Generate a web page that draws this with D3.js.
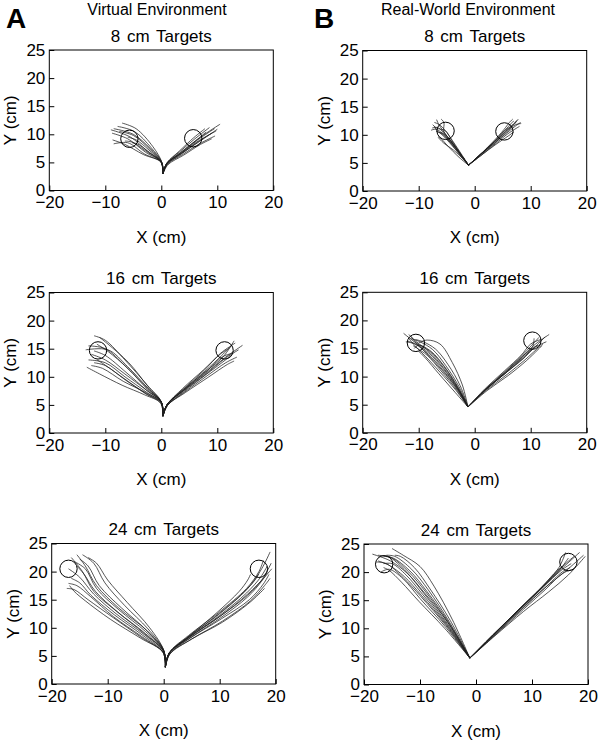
<!DOCTYPE html>
<html>
<head>
<meta charset="utf-8">
<script src="https://cdn.jsdelivr.net/npm/d3@7"></script>
<style>
  body { margin: 0; background: #fff; }
  svg text { font-family: "Liberation Sans", Arial, sans-serif; fill: #000; }
</style>
</head>
<body>
<script>
// axis ticks
var xTicks = [-20, -10, 0, 10, 20];
var yTicks = [0, 5, 10, 15, 20, 25];
var columnLabels = ["A", "B"];
var environments = ["Virtual Environment", "Real-World Environment"];
var rowTitles = ["8 cm Targets", "16 cm Targets", "24 cm Targets"];

// target circles [x, y] in cm, per panel (left target, right target)
var targetsVE8 = [[-5.7, 9.2], [5.7, 9.3]];
var targetsVE16 = [[-11.3, 14.7], [11.3, 14.7]];
var targetsVE24 = [[-17, 20.5], [17, 20.5]];
var targetsRW8 = [[-5.2, 10.7], [5.3, 10.6]];
var targetsRW16 = [[-10.5, 16], [10.3, 16.4]];
var targetsRW24 = [[-16.4, 21.4], [16.5, 21.8]];
var targetRadius = 1.55;

// hand trajectories (cm)
var ve8 = [
  [[0.3,3],[0.1,5],[-1.5,7.8],[-4.5,11],[-7,12]],
  [[0.3,3],[0.1,5],[-2,7.5],[-5,10],[-8.5,11]],
  [[0.3,3],[0,5],[-2.5,7],[-5.5,9.5],[-9,10.8]],
  [[0.3,3],[0,5],[-2.8,6.8],[-6,9.2],[-8.8,10.2]],
  [[0.3,3],[0,5],[-3,6.5],[-6,8.5],[-8.5,8.3]],
  [[0.3,3],[0,5],[-2.2,7.2],[-4.5,9],[-6,9.5]],
  [[0.3,3],[0,5],[-2,7.3],[-5,9.8],[-7.5,10.5]],
  [[0.3,3],[0.1,5],[-1.8,7.6],[-4.8,10.5],[-7.8,11.4]],
  [[0.3,3],[0,5],[-2.6,6.9],[-5.2,8.6],[-6.5,8.8]],
  [[0.3,3],[0,5],[-3.2,6.4],[-6.5,8.2],[-8.7,9]],
  [[0.3,3],[0,5],[-2.4,7],[-4.3,8.3],[-5.2,8.5]],
  [[0.3,3],[1,4.8],[3.5,6.8],[7,9.5],[10.5,11.8]],
  [[0.3,3],[1,4.8],[3.5,6.6],[6.5,9],[9.5,11]],
  [[0.3,3],[1.1,4.7],[3.6,6.5],[6.5,8.6],[9,10.2]],
  [[0.3,3],[1,4.9],[3.3,6.9],[6,9.2],[8.6,11.2]],
  [[0.3,3],[1.1,4.7],[3.8,6.4],[6.8,8.3],[9.6,9.7]],
  [[0.3,3],[1,4.8],[3.4,6.7],[6.2,8.9],[8,10.4]],
  [[0.3,3],[1,4.8],[3.5,6.6],[6.6,8.8],[9.8,10.6]],
  [[0.3,3],[1.2,4.6],[4,6.3],[7,8.2],[9,9.2]],
  [[0.3,3],[1,4.9],[3.2,7],[5.8,9.4],[7.8,11]],
  [[0.3,3],[1,4.8],[3.6,6.6],[6.8,8.7],[10,10.9]]
];

var ve16 = [
  [[0.3,3],[0,5.5],[-2.5,8.5],[-6.5,13],[-10,16.5],[-12,17.3]],
  [[0.3,3],[0,5.5],[-2.5,8],[-6.5,12],[-10,15],[-13,15.5]],
  [[0.3,3],[0,5.5],[-2.5,7.5],[-6.5,10.5],[-10,13],[-12.5,14]],
  [[0.3,3],[-0.1,5.3],[-2.8,7],[-6.5,9.5],[-10,12],[-12,12.5]],
  [[0.3,3],[-0.1,5.3],[-3,6.8],[-7,8.5],[-11,10.5],[-13.3,11.7]],
  [[0.3,3],[0,5.4],[-2.7,7.3],[-6.5,10],[-10,12.5],[-13,13]],
  [[0.3,3],[0,5.5],[-2.5,7.8],[-6,11.5],[-9.5,14.5],[-11.5,15.8]],
  [[0.3,3],[0,5.6],[-2.3,8.2],[-5.8,12.5],[-9.5,15.8],[-11,17]],
  [[0.3,3],[0,5.4],[-2.8,7.2],[-6.8,9.2],[-10.5,11.5],[-12.5,12]],
  [[0.3,3],[0,5.5],[-2.6,7.6],[-6.3,10.8],[-10,13.8],[-12,14.6]],
  [[0.3,3],[0,5.5],[-2.4,8],[-6,11.8],[-9.5,14.8],[-13.5,14.8]],
  [[0.3,3],[0,5.4],[-2.9,7.1],[-6.8,9.8],[-10.8,12.6],[-11.5,13]],
  [[0.3,3],[1,5],[4,7.8],[8,11],[11,13.5],[13,16.4]],
  [[0.3,3],[1,5],[4,7.6],[8,10.7],[11.5,13.5],[14.5,15.6]],
  [[0.3,3],[1.1,4.9],[4.2,7.3],[8.2,10.2],[11.5,12.5],[13.5,13.5]],
  [[0.3,3],[1,5],[4,7.7],[7.8,11],[10.8,13.8],[12.5,15.5]],
  [[0.3,3],[1.1,4.9],[4.3,7.2],[8.5,10],[11.8,12.2],[13,12.8]],
  [[0.3,3],[1,5],[3.8,7.9],[7.5,11.2],[10.5,14],[12,15]],
  [[0.3,3],[1,5],[4,7.5],[8,10.5],[11.3,13.2],[13.8,14.8]],
  [[0.3,3],[1,5],[3.9,7.8],[7.6,11.1],[10.6,14.2],[13.2,16]],
  [[0.3,3],[1.1,4.9],[4.1,7.4],[8,10.4],[11.2,12.8],[12.5,13.8]],
  [[0.3,3],[1,5],[4,7.6],[7.9,10.8],[11,13.6],[12.8,14.2]]
];

var ve24 = [
  [[0.3,3],[0,6],[-3,9.5],[-8,13.5],[-12,17.5],[-14,21],[-15.5,23]],
  [[0.3,3],[0,5.8],[-3.5,9],[-8.5,13],[-12.5,16.5],[-14.5,20],[-16.5,22.5]],
  [[0.3,3],[-0.1,5.6],[-4,8.5],[-9,12],[-13,15.5],[-15.5,17.5],[-17,17.9]],
  [[0.3,3],[-0.1,5.6],[-4,8.3],[-9,11.8],[-13.5,15],[-16,16.8],[-17.3,17]],
  [[0.3,3],[0,5.8],[-3.5,8.8],[-8.5,12.5],[-12.5,16],[-15,19],[-17,20.5]],
  [[0.3,3],[0,6],[-2.8,9.8],[-7,14],[-10.5,18],[-12.5,21.5],[-14.5,23]],
  [[0.3,3],[0,5.9],[-3.2,9.3],[-8,13.2],[-12,17],[-14,20.5],[-16,21.8]],
  [[0.3,3],[-0.1,5.7],[-3.8,8.7],[-8.8,12.3],[-13,15.8],[-15,18],[-16.5,18.8]],
  [[0.3,3],[0,5.8],[-3.3,9],[-8.2,12.8],[-12.2,16.5],[-14.2,19.5],[-15.5,21]],
  [[0.3,3],[0,6],[-2.5,10],[-6.5,14.5],[-10,18.5],[-12,21.5],[-13.5,22.5]],
  [[0.3,3],[-0.1,5.6],[-4.2,8.2],[-9.5,11.5],[-14,14.8],[-16,16.5],[-16.8,17.5]],
  [[0.3,3],[0,5.9],[-3,9.5],[-7.5,13.5],[-11.5,17.5],[-13.5,21],[-15,22.2]],
  [[0.3,3],[1,5.5],[4.5,8.5],[10,12.5],[15,17],[17.5,20.5],[19,23.5]],
  [[0.3,3],[1,5.5],[4.5,8.3],[10,12],[15,16],[18,19],[19.3,20.5]],
  [[0.3,3],[1.1,5.3],[5,8],[10.5,11.2],[15.5,14.8],[18,17.5],[19,18.8]],
  [[0.3,3],[1,5.5],[4.5,8.5],[9.5,12.7],[13.5,16.5],[15,18.5],[15.5,19.5]],
  [[0.3,3],[1,5.5],[4.7,8.2],[10.2,11.8],[15,15.5],[17.5,18.3],[18.5,19.8]],
  [[0.3,3],[1.1,5.4],[5,8],[10.5,11],[15,14.2],[17,16],[18,17]],
  [[0.3,3],[1,5.6],[4.4,8.6],[9.8,12.7],[14.8,17],[17,20],[17.8,22]],
  [[0.3,3],[1,5.5],[4.6,8.4],[10,12.2],[14.8,16.2],[17.3,19],[18.5,21]],
  [[0.3,3],[1,5.5],[4.5,8.4],[9.7,12.4],[14.3,16.3],[16.3,18.5],[17,19.6]],
  [[0.3,3],[1.1,5.4],[4.8,8.2],[10.3,11.6],[15.3,15],[17.8,17.8],[18.8,19.5]],
  [[0.3,3],[1,5.5],[4.6,8.3],[10,12],[15,15.8],[17.5,18.5],[19.2,21.5]]
];

var rw8 = [
  [[-1.1,4.6],[-2.5,6.5],[-4.2,8.8],[-5.5,10.5],[-6.5,12],[-6.8,12.7]],
  [[-1.1,4.6],[-2.5,6.5],[-4.3,8.8],[-5.8,10.3],[-7,11],[-7.8,10.8]],
  [[-1.1,4.6],[-2.6,6.4],[-4.5,8.6],[-5.8,10],[-6.8,10.8],[-7.2,11.5]],
  [[-1.1,4.6],[-2.4,6.6],[-4,9],[-5.3,10.8],[-6.3,11.8],[-7.2,12.2]],
  [[-1.1,4.6],[-2.8,6],[-4.8,8],[-6,9.3],[-6.5,9.6]],
  [[-1.1,4.6],[-2.5,6.5],[-4.4,8.7],[-5.9,10.2],[-6.9,10.6]],
  [[-1.1,4.6],[-2.2,5.8],[-3.8,7.3],[-5.5,8.5],[-6.5,9.5]],
  [[-1.1,4.6],[-2.5,6.5],[-4.2,8.9],[-5.5,10.6],[-5.5,12.2],[-6,12.8]],
  [[-1.1,4.6],[-2.6,6.4],[-4.4,8.7],[-5.6,10.2],[-6.3,10.4]],
  [[-1.1,4.6],[-2.5,6.6],[-4.1,9],[-5.2,10.7],[-6.8,11.2],[-7.5,11.8]],
  [[-1.1,4.6],[-2.5,6.5],[-4.3,8.9],[-5.6,10.4],[-6.6,11.3],[-7.6,11.2]],
  [[-1.1,4.6],[1,6.5],[3.5,8.7],[5.5,10.5],[7,12],[7.8,12.8]],
  [[-1.1,4.6],[1,6.4],[3.6,8.6],[5.7,10.3],[7.2,11.5],[8.2,12.2]],
  [[-1.1,4.6],[1,6.5],[3.5,8.8],[5.4,10.8],[6.5,12],[7,12.5]],
  [[-1.1,4.6],[1.1,6.3],[3.7,8.4],[5.8,10.1],[7.5,11.2],[8,11.5]],
  [[-1.1,4.6],[1,6.5],[3.4,8.9],[5.2,10.9],[6.2,12.2],[6.8,12.8]],
  [[-1.1,4.6],[1,6.4],[3.6,8.5],[5.6,10.4],[7.3,11.8],[8.3,12]],
  [[-1.1,4.6],[1,6.5],[3.5,8.7],[5.5,10.6],[7,11.8],[7.6,12.6]],
  [[-1.1,4.6],[1.1,6.3],[3.8,8.3],[6,9.8],[7,10.5]],
  [[-1.1,4.6],[1,6.5],[3.5,8.8],[5.3,10.7],[6.6,11.6],[7.4,12.3]]
];

var rw16 = [
  [[-1.2,4.6],[-3,8],[-5.5,11.8],[-8,14.5],[-10.5,16],[-12.7,17.7]],
  [[-1.2,4.6],[-3,7.8],[-5.7,11.5],[-8.2,14.2],[-10.5,15.8],[-12,16.3]],
  [[-1.2,4.6],[-3.2,7.6],[-6,11],[-8.5,13.8],[-10.2,15],[-11,15.5]],
  [[-1.2,4.6],[-2.8,8.2],[-5.2,12],[-7.5,14.8],[-9.8,16.2],[-11.5,16.8]],
  [[-1.2,4.6],[-2.2,8.5],[-4,12.5],[-6.2,15.8],[-8.5,16.5],[-10,16]],
  [[-1.2,4.6],[-3.3,7.5],[-6.2,10.8],[-8.8,13.6],[-10.5,15.3],[-11.8,16.8]],
  [[-1.2,4.6],[-2.9,8],[-5.4,11.8],[-7.8,14.5],[-10,15.6],[-10.8,15]],
  [[-1.2,4.6],[-3.1,7.8],[-5.8,11.3],[-8.3,14],[-10.7,15.8],[-12.3,16.2]],
  [[-1.2,4.6],[-2.6,8.4],[-4.8,12.2],[-7,14.9],[-9.2,16.2],[-10.6,16.6]],
  [[-1.2,4.6],[-3,7.9],[-5.6,11.6],[-8,14.3],[-10.4,16.2],[-11.8,17.5]],
  [[-1.2,4.6],[-3.5,7.2],[-6.4,10.5],[-8.8,13.3],[-10,14.5]],
  [[-1.2,4.6],[-3.1,7.7],[-5.9,11.2],[-8.6,14.1],[-10.8,16.4],[-11.4,17.2]],
  [[-1.2,4.6],[2,7.8],[5.5,10.8],[8.5,13.5],[10.5,15.5],[13.3,17.5]],
  [[-1.2,4.6],[2,7.7],[5.6,10.7],[8.7,13.3],[10.8,15.2],[12.8,16.2]],
  [[-1.2,4.6],[2,7.8],[5.4,10.9],[8.4,13.7],[10.2,15.6],[11.5,17]],
  [[-1.2,4.6],[2.1,7.6],[5.8,10.4],[9,13],[11,14.8],[12.2,15.8]],
  [[-1.2,4.6],[2,7.8],[5.5,10.8],[8.5,13.6],[10.3,15.2],[10.6,16.8]],
  [[-1.2,4.6],[2,7.7],[5.5,10.6],[8.6,13.4],[10.9,15.4],[12.6,17.1]],
  [[-1.2,4.6],[2.2,7.5],[6,10.2],[9.2,12.8],[11.3,14.8],[12,15.5]],
  [[-1.2,4.6],[1.9,7.9],[5.3,11],[8.3,13.8],[10,15.8],[11.8,16.6]],
  [[-1.2,4.6],[2,7.7],[5.6,10.7],[8.8,13.3],[10.7,15.3],[11.3,15.5]]
];

var rw24 = [
  [[-1.1,4.7],[-5,11],[-9,16.5],[-12,20],[-15,22.5],[-17.5,23]],
  [[-1.1,4.7],[-5.2,10.7],[-9.5,16],[-12.5,19.5],[-15,21.5],[-16.5,21.5]],
  [[-1.1,4.7],[-4.8,11.2],[-8.5,16.8],[-11.5,20.5],[-14.5,22.8],[-16,23]],
  [[-1.1,4.7],[-5.5,10.3],[-10,15.3],[-13,18.8],[-15.5,20.5],[-17,20]],
  [[-1.1,4.7],[-4.2,11.5],[-7.5,17.5],[-10,21],[-13,23],[-15,24.2]],
  [[-1.1,4.7],[-5,11],[-9.2,16.3],[-12.3,19.8],[-15.3,22],[-18.5,23.2]],
  [[-1.1,4.7],[-5.3,10.6],[-9.7,15.8],[-12.8,19.2],[-15.5,21.2],[-17.5,22]],
  [[-1.1,4.7],[-4.9,11.1],[-8.8,16.6],[-11.8,20.2],[-14.8,22.5],[-16.5,22.8]],
  [[-1.1,4.7],[-5.6,10],[-10.2,14.8],[-13.3,18.2],[-15.5,20.3],[-16.5,20.8]],
  [[-1.1,4.7],[-5.1,10.8],[-9.3,16.2],[-12.2,19.8],[-14.5,22],[-15.5,22.8]],
  [[-1.1,4.7],[-4.6,11.4],[-8.2,17],[-11,20.8],[-13.5,22.8],[-14.5,23]],
  [[-1.1,4.7],[-5.4,10.5],[-9.8,15.6],[-13,19],[-16,21.5],[-17.8,21.8]],
  [[-1.1,4.7],[3,8.8],[8,13.6],[12,17.5],[15,20.5],[16.5,22.5]],
  [[-1.1,4.7],[3,8.7],[8,13.5],[12,17.3],[15.2,20.3],[17,21.5]],
  [[-1.1,4.7],[3,8.8],[8,13.7],[12,17.6],[14.8,20.8],[16,23.5]],
  [[-1.1,4.7],[3.2,8.6],[8.5,13.4],[12.5,17],[15.5,19.8],[17.5,20.5]],
  [[-1.1,4.7],[3.2,8.5],[8.5,13],[13,16.5],[16.5,19.5],[19.5,22.8]],
  [[-1.1,4.7],[3,8.8],[8,13.6],[12,17.4],[15.3,20.6],[18.5,23.5]],
  [[-1.1,4.7],[3,8.7],[7.9,13.6],[11.8,17.4],[14.5,20.3],[15.5,21]],
  [[-1.1,4.7],[3.1,8.7],[8.2,13.5],[12.3,17.2],[15.8,20],[19.2,23]],
  [[-1.1,4.7],[3,8.8],[8,13.7],[12,17.5],[15,20.6],[17.5,22.8]],
  [[-1.1,4.7],[3.1,8.6],[8.2,13.4],[12.2,17.1],[15.5,20.1],[16.8,20.8]]
];

var w = 600, h = 742;
var plotW = 224, plotH = 140.5;

// panel placement: col 0 = virtual, col 1 = real world
var panels = [
  {col: 0, row: 0, left: 49.3, top: 50, paths: ve8, targets: targetsVE8},
  {col: 1, row: 0, left: 362.7, top: 50.5, paths: rw8, targets: targetsRW8},
  {col: 0, row: 1, left: 49.3, top: 292.5, paths: ve16, targets: targetsVE16},
  {col: 1, row: 1, left: 362.7, top: 292.3, paths: rw16, targets: targetsRW16},
  {col: 0, row: 2, left: 51.7, top: 543.5, paths: ve24, targets: targetsVE24},
  {col: 1, row: 2, left: 364, top: 544, paths: rw24, targets: targetsRW24}
];

var svg = d3.select("body").append("svg")
  .attr("width", w)
  .attr("height", h);

svg.append("rect")
  .attr("width", w)
  .attr("height", h)
  .attr("fill", "white");

// column letters and environment labels
var letterX = [6, 314];
var envX = [157, 468];
for (var c = 0; c < 2; c++) {
  svg.append("text")
    .attr("x", letterX[c])
    .attr("y", 28)
    .style("font-size", "28px")
    .style("font-weight", "bold")
    .text(columnLabels[c]);

  svg.append("text")
    .attr("x", envX[c])
    .attr("y", 15)
    .attr("text-anchor", "middle")
    .style("font-size", "16px")
    .text(environments[c]);
}

panels.forEach(function(p) {
  var x = d3.scaleLinear().domain([-20, 20]).range([0, plotW]);
  var y = d3.scaleLinear().domain([0, 25]).range([plotH, 0]);

  var g = svg.append("g")
    .attr("transform", "translate(" + p.left + "," + p.top + ")");

  // title
  g.append("text")
    .attr("x", plotW / 2)
    .attr("y", -8.5)
    .attr("text-anchor", "middle")
    .style("font-size", "17px")
    .style("word-spacing", "2px")
    .text(rowTitles[p.row]);

  // axes (ticks inside)
  var xAxis = g.append("g")
    .attr("transform", "translate(0," + plotH + ")")
    .call(d3.axisBottom(x).tickValues(xTicks).tickSize(-5).tickPadding(6).tickSizeOuter(0));
  var yAxis = g.append("g")
    .call(d3.axisLeft(y).tickValues(yTicks).tickSize(-5).tickPadding(4).tickSizeOuter(0));

  [xAxis, yAxis].forEach(function(a) {
    a.select(".domain").remove();
    a.selectAll("text")
      .style("font-size", "17px")
      .style("font-family", "'Liberation Sans', Arial, sans-serif")
      .attr("fill", "#000");
    a.selectAll("line").attr("stroke", "#000");
  });
  xAxis.selectAll("text").attr("dy", "0.68em");

  // trajectories
  var line = d3.line()
    .x(function(d) { return x(d[0]); })
    .y(function(d) { return y(d[1]); })
    .curve(d3.curveCatmullRom.alpha(0.5));

  g.append("g")
    .selectAll("path")
    .data(p.paths)
    .enter().append("path")
    .attr("d", line)
    .attr("fill", "none")
    .attr("stroke", "#1e1e1e")
    .attr("stroke-width", 0.75);

  // targets
  g.append("g")
    .selectAll("circle")
    .data(p.targets)
    .enter().append("circle")
    .attr("cx", function(d) { return x(d[0]); })
    .attr("cy", function(d) { return y(d[1]); })
    .attr("r", x(targetRadius) - x(0))
    .attr("fill", "none")
    .attr("stroke", "#000")
    .attr("stroke-width", 1);

  // frame
  g.append("rect")
    .attr("width", plotW)
    .attr("height", plotH)
    .attr("fill", "none")
    .attr("stroke", "#000")
    .attr("stroke-width", 1);

  // axis labels
  g.append("text")
    .attr("x", plotW / 2)
    .attr("y", plotH + 52)
    .attr("text-anchor", "middle")
    .style("font-size", "17px")
    .text("X (cm)");

  g.append("text")
    .attr("transform", "translate(-33," + (plotH / 2) + ") rotate(-90)")
    .attr("text-anchor", "middle")
    .style("font-size", "17px")
    .text("Y (cm)");
});
</script>
</body>
</html>
